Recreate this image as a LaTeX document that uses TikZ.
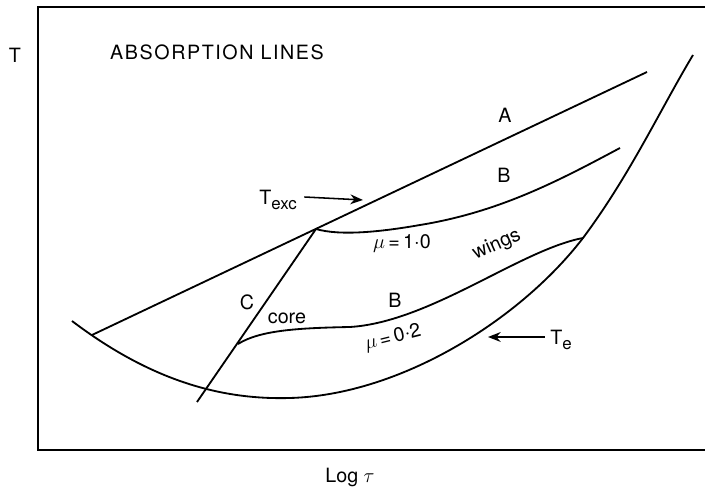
\documentclass[tikz,border=0pt]{standalone}
\usepackage{fontspec}
\setmainfont{TeX Gyre Heros}
\usepackage{amsmath}
\usetikzlibrary{arrows.meta}

\newcommand{\subtxt}[1]{\raisebox{-0.45ex}{\fontsize{12}{14}\selectfont #1}}

\begin{document}
\begin{tikzpicture}[
        x=0.025cm, y=-0.025cm,
        curve/.style={
            line width=1.3pt,
            line join=round
        },
        label/.style={
            font=\fontsize{14}{16}\selectfont,
            inner sep=1pt
        },
        pointer/.style={
            -{Stealth[length=9pt, width=7pt]},
            line width=1.1pt
        }
    ]
    \useasboundingbox (0,0) rectangle (705,490);

    % frame and axes
    \draw[line width=2pt] (705,7) -- (38,7) -- (38,450) -- (705,450);
    \node[label] (taxis) at (15,55) {T};
    \node[label] (logtau) at (350,477) {Log $\tau$};
    \node[label, font=\fontsize{14}{16}\selectfont\addfontfeature{LetterSpace=8}] (title) at (217,52) {ABSORPTION LINES};

    % named points
    \coordinate (a0) at (92,335);
    \coordinate (a1) at (647,72);
    \coordinate (junc) at (316,229);
    \coordinate (c1) at (197,402);
    \coordinate (core0) at (238,344);
    \coordinate (wing1) at (583,238);

    % T_e curve
    \draw[curve] (72,321) .. controls (150,380) and (220,400) .. (290,398)
        .. controls (400,395) and (520,320) .. (wing1)
        .. controls (630,175) and (660,110) .. (693,55);

    % line A and line C
    \draw[curve] (a0) -- (a1);
    \draw[curve] (junc) -- (c1);

    % B, mu = 1.0
    \draw[curve] (junc) .. controls (340,236) and (380,232) .. (420,225)
        .. controls (500,212) and (560,180) .. (620,148);

    % B, mu = 0.2
    \draw[curve] (core0) .. controls (260,330) and (300,328) .. (350,327)
        .. controls (430,322) and (520,250) .. (wing1);

    % labels
    \node[label] (la) at (505,115) {A};
    \node[label] (lb1) at (504,175) {B};
    \node[label] (mu1) at (402,243) {$\mu$\,=\,1$\cdot$0};
    \node[label] (lc) at (247,302) {C};
    \node[label] (core) at (287,318) {core};
    \node[label] (lb2) at (395,300) {B};
    \node[label, rotate=14] (mu2) at (393,338) {$\mu$\,=\,0$\cdot$2};
    \node[label, rotate=24] (wings) at (497,245) {wings};

    % pointers
    \node[label] (texc) at (278,200) {T\subtxt{exc}};
    \coordinate (texctip) at (363,200);
    \draw[pointer] (texc.east) ++(6,-3) -- (texctip);
    \node[label] (te) at (561,340) {T\subtxt{e}};
    \coordinate (tetip) at (488,337);
    \draw[pointer] (te.west) ++(-4,-3) -- (tetip);

\end{tikzpicture}
\end{document}
